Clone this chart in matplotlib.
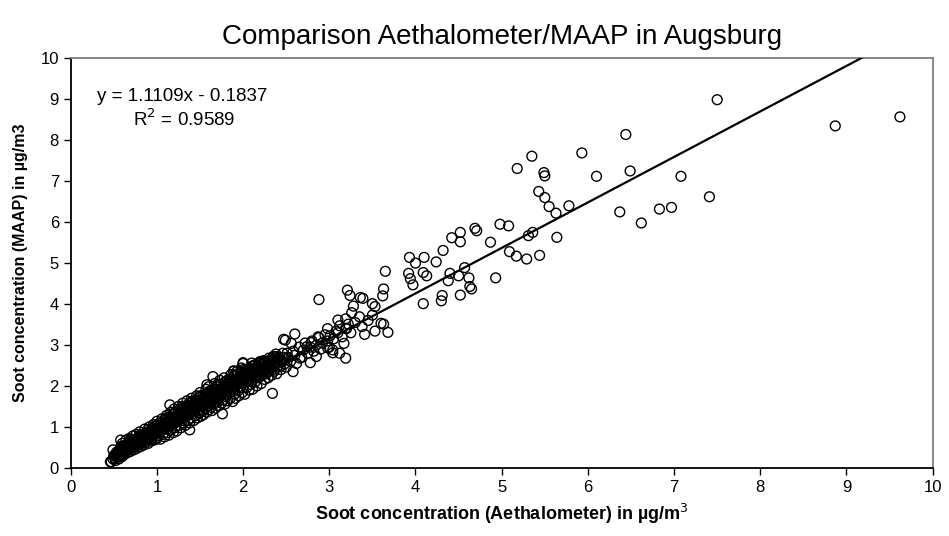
import matplotlib
matplotlib.use("Agg")
import matplotlib.pyplot as plt
import numpy as np

plt.rcParams['font.family'] = ['Liberation Sans', 'DejaVu Sans']

# regression shown on the chart
fit_slope = 1.1109
fit_intercept = -0.1837
fit_r2 = 0.9589

# dense band, aethalometer (x) / MAAP (y) pairs
band_low = [
    (0.47, 0.15), (0.49, 0.22), (0.50, 0.30), (0.52, 0.18), (0.53, 0.38), (0.54, 0.26),
    (0.55, 0.33), (0.56, 0.22), (0.57, 0.45), (0.58, 0.30), (0.58, 0.52), (0.59, 0.38),
    (0.60, 0.28), (0.60, 0.60), (0.61, 0.44), (0.62, 0.34), (0.62, 0.55), (0.63, 0.40),
    (0.64, 0.68), (0.64, 0.48), (0.65, 0.36), (0.66, 0.58), (0.67, 0.44), (0.68, 0.50),
    (0.68, 0.72), (0.69, 0.40), (0.70, 0.62), (0.71, 0.48), (0.72, 0.56), (0.72, 0.78),
    (0.73, 0.44), (0.74, 0.66), (0.75, 0.52), (0.76, 0.60), (0.76, 0.82), (0.77, 0.48),
    (0.78, 0.70), (0.79, 0.56), (0.80, 0.64), (0.80, 0.88), (0.81, 0.52), (0.82, 0.74),
    (0.83, 0.60), (0.84, 0.82), (0.85, 0.56), (0.85, 0.68), (0.86, 0.95), (0.87, 0.62),
    (0.88, 0.76), (0.89, 0.86), (0.90, 0.60), (0.90, 0.70), (0.91, 1.00), (0.92, 0.80),
    (0.93, 0.66), (0.94, 0.90), (0.95, 0.74), (0.96, 1.06), (0.97, 0.68), (0.98, 0.84),
    (0.99, 0.96), (1.00, 0.72), (1.00, 1.14), (1.01, 0.88), (1.02, 0.78), (1.03, 1.02),
    (1.04, 0.70), (1.05, 0.92), (1.06, 1.20), (1.07, 0.82), (1.08, 1.08), (1.09, 0.76),
    (1.10, 0.96), (1.11, 1.28), (1.12, 0.86), (1.13, 1.14), (1.14, 0.80), (1.15, 1.02),
    (1.16, 1.36), (1.16, 0.92), (1.18, 1.20), (1.19, 0.86), (1.20, 1.08), (1.20, 1.44),
    (1.21, 0.98), (1.15, 1.54), (0.58, 0.68), (0.49, 0.44), (0.46, 0.15),
]

band_mid = [
    (1.22, 1.26), (1.23, 0.90), (1.24, 1.14), (1.25, 1.50), (1.26, 1.04), (1.27, 1.32),
    (1.28, 0.98), (1.29, 1.20), (1.30, 1.58), (1.31, 1.10), (1.32, 1.40), (1.33, 1.04),
    (1.34, 1.26), (1.35, 1.64), (1.36, 1.16), (1.37, 1.48), (1.38, 1.10), (1.39, 1.34),
    (1.40, 1.70), (1.40, 1.22), (1.42, 1.56), (1.43, 1.16), (1.44, 1.40), (1.45, 1.28),
    (1.46, 1.76), (1.47, 1.22), (1.48, 1.50), (1.49, 1.34), (1.50, 1.84), (1.51, 1.26),
    (1.52, 1.62), (1.53, 1.40), (1.54, 1.30), (1.55, 1.72), (1.56, 1.46), (1.57, 1.92),
    (1.58, 1.36), (1.59, 1.56), (1.60, 1.98), (1.60, 1.42), (1.62, 1.68), (1.63, 1.48),
    (1.64, 1.40), (1.65, 1.80), (1.66, 1.56), (1.67, 2.06), (1.68, 1.46), (1.69, 1.70),
    (1.70, 1.60), (1.71, 1.92), (1.72, 1.52), (1.73, 2.14), (1.74, 1.78), (1.75, 1.58),
    (1.76, 1.86), (1.77, 1.66), (1.78, 2.20), (1.79, 1.56), (1.80, 1.96), (1.80, 1.74),
    (1.82, 1.64), (1.83, 2.06), (1.84, 1.84), (1.85, 1.70), (1.86, 2.28), (1.87, 1.94),
    (1.88, 1.62), (1.89, 2.12), (1.90, 1.80), (1.91, 1.70), (1.92, 2.02), (1.93, 2.36),
    (1.94, 1.88), (1.95, 1.76), (1.96, 2.18), (1.97, 1.96), (1.98, 2.44), (1.99, 1.84),
    (2.00, 2.08), (2.00, 2.55), (2.02, 1.80), (2.03, 2.28), (2.04, 1.96), (2.05, 2.14),
    (2.07, 1.90), (2.08, 2.40), (2.09, 2.04), (2.10, 2.22), (2.11, 1.92), (2.12, 2.50),
    (2.14, 2.10), (2.15, 2.32), (2.16, 2.00), (2.18, 2.20), (2.19, 2.58), (2.20, 2.40),
    (2.21, 2.06), (2.23, 2.28), (2.24, 2.62), (2.25, 2.16), (2.26, 2.46), (2.28, 2.34),
    (2.29, 2.20), (2.30, 2.68), (2.32, 2.44), (2.33, 2.26), (2.35, 2.56), (2.36, 2.36),
    (2.38, 2.72), (2.39, 2.30), (2.41, 2.50), (2.43, 2.62), (2.44, 2.40), (2.46, 2.80),
    (2.48, 2.54), (2.50, 2.46), (1.76, 1.32), (1.38, 0.93), (1.65, 2.23), (1.58, 2.03),
    (1.89, 2.36), (2.00, 2.57), (2.34, 1.82), (1.89, 2.37), (2.10, 2.39),
]

# extra points inside the solid black part of the band
band_fill = [
    (0.52, 0.28), (0.55, 0.40), (0.57, 0.34), (0.60, 0.46), (0.63, 0.52), (0.65, 0.46),
    (0.67, 0.60), (0.70, 0.54), (0.72, 0.66), (0.74, 0.58), (0.77, 0.72), (0.79, 0.64),
    (0.81, 0.78), (0.83, 0.70), (0.86, 0.82), (0.88, 0.70), (0.90, 0.88), (0.92, 0.74),
    (0.94, 0.96), (0.96, 0.84), (0.98, 1.02), (1.00, 0.90), (1.02, 1.08), (1.04, 0.96),
    (1.06, 1.12), (1.08, 0.98), (1.10, 1.18), (1.12, 1.06), (1.14, 1.24), (1.16, 1.12),
    (1.18, 1.30), (1.20, 1.18), (1.22, 1.36), (1.24, 1.26), (1.26, 1.42), (1.28, 1.30),
    (1.30, 1.46), (1.32, 1.28), (1.34, 1.52), (1.36, 1.40), (1.38, 1.58), (1.40, 1.44),
    (1.42, 1.64), (1.44, 1.52), (1.46, 1.66), (1.48, 1.58), (1.50, 1.72), (1.52, 1.50),
    (1.54, 1.78), (1.56, 1.64), (1.58, 1.82), (1.60, 1.70), (1.62, 1.88), (1.64, 1.74),
    (1.66, 1.92), (1.68, 1.80), (1.70, 1.98), (1.72, 1.84), (1.74, 2.04), (1.76, 1.92),
    (1.78, 2.08), (1.80, 1.86), (1.82, 2.14), (1.84, 2.00), (1.86, 2.18), (1.88, 2.04),
    (1.90, 2.24), (1.92, 2.12), (1.94, 2.30), (1.96, 2.06), (1.98, 2.32), (2.00, 2.20),
    (2.02, 2.38), (2.04, 2.22), (2.06, 2.42), (2.08, 2.30), (2.10, 2.48), (2.12, 2.30),
    (2.14, 2.52), (2.16, 2.38), (2.18, 2.56), (2.20, 2.44), (2.22, 2.60), (2.24, 2.48),
    (2.26, 2.60), (2.28, 2.52), (2.30, 2.62), (2.32, 2.58), (2.34, 2.68), (2.36, 2.64),
    (2.38, 2.78), (2.40, 2.66), (0.84, 0.64), (0.94, 0.72), (1.03, 0.86), (1.12, 0.94),
    (1.22, 1.02), (1.30, 1.16), (1.40, 1.30), (1.50, 1.40), (1.60, 1.52), (1.70, 1.68),
    (1.80, 1.80), (1.90, 1.92), (2.00, 1.96), (2.10, 2.10), (2.20, 2.24), (2.30, 2.36),
    (0.70, 0.70), (0.80, 0.80), (0.90, 0.94), (1.00, 1.04), (1.10, 1.22), (1.20, 1.34),
    (1.30, 1.50), (1.40, 1.62), (1.50, 1.76), (1.60, 1.86), (1.70, 2.02), (1.80, 2.12),
    (1.90, 2.28), (2.00, 2.40), (2.10, 2.56), (2.20, 2.60),
]

band_fill2 = [
    (0.51, 0.24), (0.54, 0.34), (0.56, 0.30), (0.59, 0.50), (0.61, 0.38), (0.63, 0.46),
    (0.66, 0.50), (0.68, 0.56), (0.69, 0.66), (0.71, 0.60), (0.73, 0.52), (0.75, 0.70),
    (0.76, 0.66), (0.78, 0.60), (0.80, 0.74), (0.82, 0.66), (0.84, 0.76), (0.86, 0.72),
    (0.87, 0.86), (0.89, 0.78), (0.91, 0.82), (0.93, 0.86), (0.95, 0.80), (0.97, 0.92),
    (0.99, 0.86), (1.01, 0.98), (1.03, 0.92), (1.05, 1.04), (1.07, 1.00), (1.09, 1.10),
    (1.11, 1.04), (1.13, 1.16), (1.15, 1.10), (1.17, 1.22), (1.19, 1.16), (1.21, 1.26),
    (1.23, 1.20), (1.25, 1.34), (1.27, 1.24), (1.29, 1.38), (1.31, 1.34), (1.33, 1.44),
    (1.35, 1.36), (1.37, 1.52), (1.39, 1.46), (1.41, 1.50), (1.43, 1.58), (1.45, 1.48),
    (1.47, 1.62), (1.49, 1.56), (1.51, 1.66), (1.53, 1.60), (1.55, 1.58), (1.57, 1.70),
    (1.59, 1.66), (1.61, 1.78), (1.63, 1.70), (1.65, 1.66), (1.67, 1.84), (1.69, 1.76),
    (1.71, 1.80), (1.73, 1.92), (1.75, 1.86), (1.77, 1.96), (1.79, 1.90), (1.81, 2.00),
    (1.83, 1.94), (1.85, 2.06), (1.87, 2.10), (1.89, 1.98), (1.91, 2.16), (1.93, 2.08),
    (1.95, 2.22), (1.97, 2.14), (1.99, 2.26), (2.01, 2.14), (2.03, 2.32), (2.05, 2.26),
    (2.07, 2.36), (2.09, 2.16), (2.11, 2.40), (2.13, 2.44), (2.15, 2.22), (2.17, 2.46),
    (2.19, 2.32), (2.21, 2.52), (2.23, 2.40), (2.25, 2.56), (2.27, 2.30), (2.29, 2.48),
    (2.31, 2.52), (2.33, 2.38), (2.35, 2.62), (2.37, 2.50), (2.39, 2.58), (2.42, 2.70),
    (2.45, 2.60), (2.47, 2.70), (2.49, 2.64),
]

band_upper = [
    (2.52, 2.70), (2.55, 2.60), (2.58, 2.85), (2.60, 2.75), (2.62, 2.55), (2.65, 2.95),
    (2.68, 2.70), (2.70, 2.88), (2.72, 3.05), (2.75, 2.80), (2.78, 2.95), (2.80, 3.10),
    (2.82, 2.85), (2.85, 3.00), (2.88, 3.18), (2.90, 2.90), (2.92, 3.05), (2.95, 3.25),
    (2.98, 3.10), (3.00, 2.95), (3.05, 3.15), (3.10, 3.30), (3.15, 3.20), (3.20, 3.40),
    (3.30, 3.55), (3.38, 3.45), (3.45, 3.60), (2.88, 4.11), (3.21, 4.34), (3.24, 4.21),
    (3.36, 4.16), (3.39, 4.14), (3.63, 4.37), (3.62, 4.20), (3.50, 4.01), (3.53, 3.94),
    (3.28, 3.95), (3.26, 3.79), (3.35, 3.69), (3.50, 3.73), (3.60, 3.53), (3.63, 3.51),
    (3.53, 3.34), (3.68, 3.31), (3.41, 3.26), (3.10, 3.61), (3.19, 3.64), (3.22, 3.51),
    (3.19, 3.41), (3.25, 3.30), (3.12, 3.47), (3.08, 3.34), (2.98, 3.40), (3.01, 3.23),
    (3.17, 3.04), (3.04, 2.81), (3.19, 2.68), (3.12, 2.80), (2.87, 3.20), (2.79, 3.06),
    (2.74, 2.96), (2.60, 3.27), (2.47, 3.14), (2.56, 3.04), (2.49, 3.12), (2.98, 2.93),
    (3.04, 2.88), (2.85, 2.72), (2.78, 2.57), (2.58, 2.35), (2.43, 2.47), (2.35, 2.72),
    (2.51, 2.80), (2.66, 2.68),
]

outliers = [
    (3.65, 4.80), (3.92, 4.75), (3.94, 4.62), (3.97, 4.47), (4.09, 4.77), (4.13, 4.69),
    (4.40, 4.75), (4.57, 4.89), (4.50, 4.69), (4.38, 4.57), (4.62, 4.64), (4.63, 4.43),
    (4.65, 4.37), (4.31, 4.21), (4.30, 4.08), (4.52, 4.22), (4.09, 4.01), (3.93, 5.14),
    (4.10, 5.14), (4.00, 5.00), (4.24, 5.03), (4.32, 5.31), (4.42, 5.62), (4.52, 5.52),
    (4.52, 5.75), (4.69, 5.85), (4.71, 5.79), (4.98, 5.95), (5.08, 5.91), (4.87, 5.51),
    (5.31, 5.67), (5.36, 5.75), (5.64, 5.63), (5.09, 5.28), (5.17, 5.17), (5.29, 5.10),
    (5.44, 5.19), (4.93, 4.64), (5.43, 6.75), (5.50, 6.60), (5.55, 6.38), (5.63, 6.22),
    (5.78, 6.40), (6.37, 6.25), (6.62, 5.98), (6.83, 6.32), (6.97, 6.36), (7.41, 6.62),
    (5.18, 7.31), (5.35, 7.61), (5.49, 7.21), (5.50, 7.13), (5.93, 7.69), (6.10, 7.12),
    (6.49, 7.25), (7.08, 7.12), (6.44, 8.14), (7.50, 8.99), (8.87, 8.35), (9.62, 8.57),
]

x_ticks = list(range(0, 11))
y_ticks = list(range(0, 11))

pts = np.array(band_low + band_mid + band_fill + band_fill2 + band_upper + outliers)
aeth = pts[:, 0]
maap = pts[:, 1]

fig = plt.figure(figsize=(9.49, 5.36), dpi=100)
ax = fig.add_axes([0.0745, 0.127, 0.9083, 0.7642])

ax.scatter(aeth, maap, s=50, facecolors='none', edgecolors='black', linewidths=1.0, zorder=2)

fx = np.array([aeth.min(), 10])
ax.plot(fx, fit_slope * fx + fit_intercept, color='black', lw=1.6, zorder=3)

ax.set_xlim(0, 10)
ax.set_ylim(0, 10)
ax.set_xticks(x_ticks)
ax.set_yticks(y_ticks)
ax.tick_params(direction='out', length=5, width=1, labelsize=12, top=False, right=False)

for s in ['left', 'bottom']:
    ax.spines[s].set_linewidth(1.3)
    ax.spines[s].set_color('black')
for s in ['top', 'right']:
    ax.spines[s].set_linewidth(1.3)
    ax.spines[s].set_color('#808080')

ax.set_title('Comparison Aethalometer/MAAP in Augsburg', fontsize=20, pad=10)
ax.set_xlabel('Soot concentration (Aethalometer) in µg/m$^3$', fontsize=13, fontweight='bold', labelpad=5)
ax.set_ylabel('Soot concentration (MAAP) in µg/m3', fontsize=11.5, fontweight='bold', labelpad=9)

ax.text(0.3, 8.95, 'y = %.4fx - %.4f' % (fit_slope, -fit_intercept), fontsize=13.5)
ax.text(0.72, 8.35, 'R$^2$ = %.4f' % fit_r2, fontsize=13.5)

fig.savefig('out.png', dpi=100)
